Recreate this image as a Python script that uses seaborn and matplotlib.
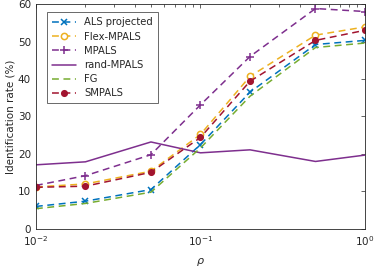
"""Identification rate vs rho, MATLAB-style line chart redrawn with seaborn."""

import matplotlib

matplotlib.use("Agg")
import matplotlib.pyplot as plt
import pandas as pd
import seaborn as sns

# sampling ratios on the x axis
rho = [0.01, 0.02, 0.05, 0.1, 0.2, 0.5, 1.0]

# identification rates (%)
als_projected = [6.0, 7.4, 10.5, 22.5, 36.5, 49.2, 50.3]
flex_mpals = [11.2, 12.0, 15.4, 25.2, 40.7, 51.7, 53.9]
mpals = [11.6, 14.2, 19.8, 33.1, 46.0, 58.8, 58.0]
rand_mpals = [17.1, 17.9, 23.2, 20.3, 21.1, 18.0, 19.7]
fg = [5.4, 6.8, 9.8, 21.6, 35.4, 48.4, 49.6]
smpals = [11.1, 11.4, 15.1, 24.4, 39.4, 50.3, 53.0]

series_names = ["ALS projected", "Flex-MPALS", "MPALS", "rand-MPALS", "FG", "SMPALS"]
series_values = [als_projected, flex_mpals, mpals, rand_mpals, fg, smpals]

# style per series (matlab default colour order)
dash = (0, (4.5, 3))
styles = {
    "ALS projected": dict(color="#0072BD", ls=dash, marker="x", mfc="#0072BD", ms=4),
    "Flex-MPALS": dict(color="#EDB120", ls=dash, marker="o", mfc="white", ms=4.5),
    "MPALS": dict(color="#7E2F8E", ls=dash, marker="+", mfc="#7E2F8E", ms=5.5),
    "rand-MPALS": dict(color="#7E2F8E", ls="-", marker=None, mfc=None, ms=0),
    "FG": dict(color="#77AC30", ls=dash, marker=None, mfc=None, ms=0),
    "SMPALS": dict(color="#A2142F", ls=dash, marker="o", mfc="#A2142F", ms=4),
}

sns.set_style("white")
plt.rcParams["font.family"] = ["DejaVu Sans"]

fig = plt.figure(figsize=(3.74, 2.69), dpi=100)
ax = fig.add_axes([0.096, 0.149, 0.880, 0.836])

for name, vals in zip(series_names, series_values):
    st = styles[name]
    df = pd.DataFrame({"rho": rho, "rate": vals})
    sns.lineplot(
        data=df, x="rho", y="rate", ax=ax, color=st["color"], linestyle=st["ls"],
        linewidth=1.1, marker=st["marker"], markersize=st["ms"],
        markerfacecolor=st["mfc"], markeredgecolor=st["color"],
        markeredgewidth=1.1, label=name,
    )

ax.set_xscale("log")
ax.set_xlim(0.01, 1)
ax.set_ylim(0, 60)
ax.set_yticks(range(0, 61, 10))
ax.set_xlabel(r"$\rho$", fontsize=8, labelpad=6)
ax.set_ylabel("Identification rate (%)", fontsize=7.5, labelpad=2)

for sp in ax.spines.values():
    sp.set_color("#262626")
    sp.set_linewidth(0.6)
ax.tick_params(which="both", direction="in", top=True, right=True,
               labelsize=7.5, color="#262626", labelcolor="#262626", width=0.5)
ax.tick_params(which="major", length=3)
ax.tick_params(which="minor", length=1.8)

leg = ax.legend(loc="upper left", bbox_to_anchor=(0.02, 0.985), fontsize=7.2,
                frameon=True, fancybox=False, edgecolor="#262626",
                handlelength=2.4, labelspacing=0.42, borderpad=0.5)
leg.get_frame().set_linewidth(0.6)

fig.savefig("out.png", dpi=100)
plt.close(fig)
